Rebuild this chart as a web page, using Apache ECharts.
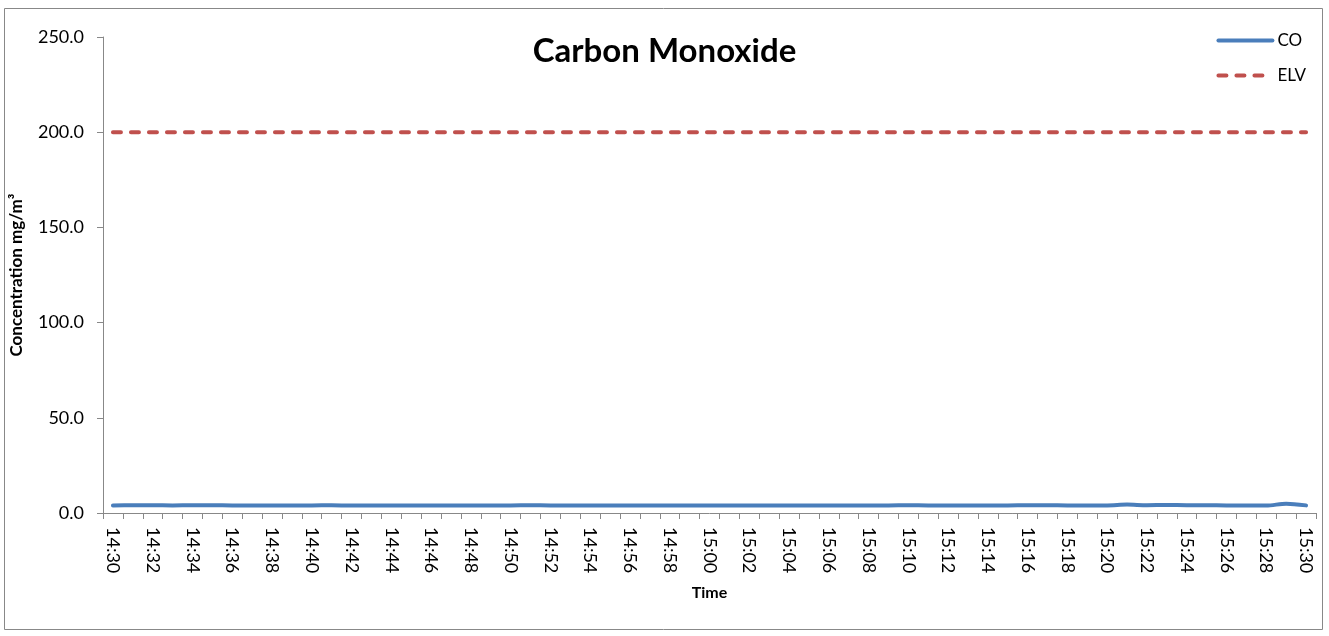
<!DOCTYPE html>
<html>
<head>
<meta charset="utf-8">
<script src="https://cdn.jsdelivr.net/npm/echarts@6/dist/echarts.min.js"></script>
<style>
  html, body { margin: 0; padding: 0; background: #fff; }
  #chart { width: 1329px; height: 636px; }
</style>
</head>
<body>
<div id="chart"></div>
<script>
// minutes 14:30 .. 15:30
const times = [
    '14:30', '14:31', '14:32', '14:33', '14:34', '14:35', '14:36', '14:37', '14:38', '14:39',
    '14:40', '14:41', '14:42', '14:43', '14:44', '14:45', '14:46', '14:47', '14:48', '14:49',
    '14:50', '14:51', '14:52', '14:53', '14:54', '14:55', '14:56', '14:57', '14:58', '14:59',
    '15:00', '15:01', '15:02', '15:03', '15:04', '15:05', '15:06', '15:07', '15:08', '15:09',
    '15:10', '15:11', '15:12', '15:13', '15:14', '15:15', '15:16', '15:17', '15:18', '15:19',
    '15:20', '15:21', '15:22', '15:23', '15:24', '15:25', '15:26', '15:27', '15:28', '15:29',
    '15:30'
];

const coValues = [
    4.0, 4.1, 4.1, 4.0, 4.1, 4.1, 4.0, 4.0, 4.0, 4.0,
    4.0, 4.1, 3.9, 4.0, 3.9, 4.0, 4.0, 4.0, 3.9, 4.0,
    4.0, 4.1, 4.0, 4.0, 4.0, 4.0, 3.9, 3.9, 4.0, 4.0,
    3.9, 4.0, 3.9, 3.9, 4.0, 4.0, 4.0, 4.0, 4.0, 4.0,
    4.1, 4.0, 4.0, 3.9, 4.0, 4.0, 4.1, 4.1, 4.0, 4.0,
    4.0, 4.4, 4.1, 4.2, 4.1, 4.1, 4.0, 4.0, 3.9, 4.9,
    4.0
];

const elvValues = times.map(() => 200);

const yTicks = { min: 0, max: 250, interval: 50 };

const font = 'Lato, "Open Sans", "Liberation Sans", sans-serif';

var myChart = echarts.init(document.getElementById('chart'));

myChart.setOption({
    animation: false,
    backgroundColor: '#fff',
    graphic: [
        {
            type: 'rect',
            shape: { x: 4.5, y: 8.5, width: 1318, height: 621 },
            style: { fill: 'none', stroke: '#888', lineWidth: 1 },
            silent: true,
        },
    ],
    title: {
        text: 'Carbon Monoxide',
        left: 'center',
        top: 30,
        textStyle: {
            fontFamily: font,
            fontSize: 33,
            fontWeight: 'bold',
            color: '#000',
        },
    },
    legend: {
        orient: 'vertical',
        right: 18,
        top: 27,
        itemWidth: 54,
        itemHeight: 18,
        itemGap: 18,
        itemStyle: { opacity: 0 },
        lineStyle: { width: 4, cap: 'round' },
        textStyle: { fontFamily: font, fontSize: 17, color: '#000', padding: [0, 0, 0, 0] },
        data: ['CO', 'ELV'],
    },
    grid: {
        left: 96,
        right: 13,
        top: 37,
        bottom: 123,
    },
    xAxis: {
        type: 'category',
        data: times,
        boundaryGap: true,
        name: 'Time',
        nameLocation: 'middle',
        nameGap: 72,
        nameTextStyle: { fontFamily: font, fontSize: 16, fontWeight: 'bold', color: '#000' },
        axisLine: { lineStyle: { color: '#888', width: 1 } },
        axisTick: { show: true, interval: 0, length: 6, lineStyle: { color: '#888' } },
        axisLabel: {
            interval: 1,
            rotate: -90,
            margin: 14,
            fontFamily: font,
            fontSize: 18,
            color: '#000',
        },
        splitLine: { show: false },
    },
    yAxis: {
        type: 'value',
        min: yTicks.min,
        max: yTicks.max,
        interval: yTicks.interval,
        name: 'Concentration mg/m³',
        nameLocation: 'middle',
        nameGap: 78,
        nameTextStyle: { fontFamily: font, fontSize: 17, fontWeight: 'bold', color: '#000' },
        axisLine: { show: true, lineStyle: { color: '#888', width: 1 } },
        axisTick: { show: true, length: 6, lineStyle: { color: '#888' } },
        axisLabel: {
            margin: 19,
            fontFamily: font,
            fontSize: 18,
            color: '#000',
            formatter: (v) => v.toFixed(1),
        },
        splitLine: { show: false },
    },
    series: [
        {
            name: 'CO',
            type: 'line',
            data: coValues,
            symbol: 'none',
            smooth: 0.3,
            lineStyle: { color: '#4a7ebb', width: 4, cap: 'round' },
            itemStyle: { color: '#4a7ebb' },
        },
        {
            name: 'ELV',
            type: 'line',
            data: elvValues,
            symbol: 'none',
            lineStyle: { color: '#c0504d', width: 4, type: [8, 10], cap: 'round' },
            itemStyle: { color: '#c0504d' },
        },
    ],
});
</script>
</body>
</html>
